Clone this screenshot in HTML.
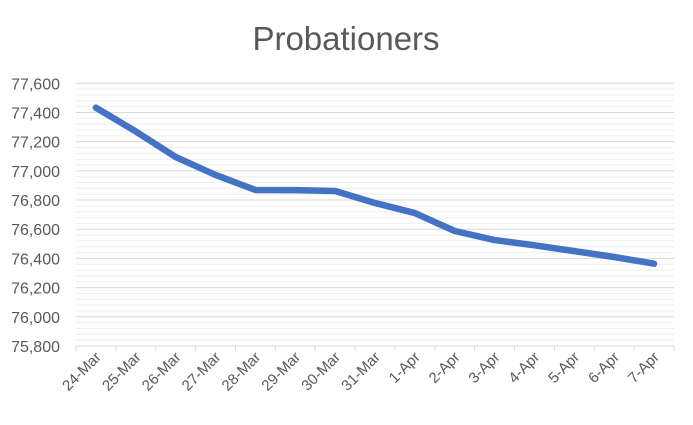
<!DOCTYPE html>
<html><head><meta charset="utf-8"><style>
html,body{margin:0;padding:0;background:#fff;}
svg text{font-family:"Liberation Sans",sans-serif;fill:#595959;}
</style></head><body>
<svg id="chart" width="693" height="420" xmlns="http://www.w3.org/2000/svg">
<text x="346" y="50" text-anchor="middle" font-size="33">Probationers</text>
<g id="grid"></g><g id="yt"></g><g id="xt"></g>
<polyline id="line" fill="none" stroke="#4472C4" stroke-width="6.5" stroke-linejoin="round" stroke-linecap="round"/>
</svg>
<script>
const categories=["24-Mar","25-Mar","26-Mar","27-Mar","28-Mar","29-Mar","30-Mar","31-Mar","1-Apr","2-Apr","3-Apr","4-Apr","5-Apr","6-Apr","7-Apr"];
const values=[77433,77270,77095,76972,76869,76868,76862,76780,76711,76588,76526,76490,76450,76410,76364];
const yTicks=[75800,76000,76200,76400,76600,76800,77000,77200,77400,77600];
const NS="http://www.w3.org/2000/svg";
const x0=76,x1=674,yTop=83.3,yBot=346,vMin=75800,vMax=77600;
const n=categories.length,step=(x1-x0)/n;
const X=i=>x0+step*(i+0.5);
const Y=v=>yBot-(v-vMin)/(vMax-vMin)*(yBot-yTop);
function mk(t,a,p){const e=document.createElementNS(NS,t);for(const k in a)e.setAttribute(k,a[k]);p.appendChild(e);return e;}
const grid=document.getElementById('grid'),yt=document.getElementById('yt'),xt=document.getElementById('xt');
for(let v=vMin;v<=vMax;v+=40){
 const major=(v-vMin)%200===0;
 const l=mk('line',{x1:x0,x2:x1,y1:Y(v),y2:Y(v),stroke:major?'#d9d9d9':'#eeeeee','stroke-width':1},grid);
 
 
}
yTicks.forEach(v=>{
 const t=mk('text',{x:60,y:Y(v)+6,'text-anchor':'end','font-size':16},yt);
 t.textContent=v.toLocaleString('en-US');
 
 
});
const ax=mk('line',{x1:x0,x2:x1,y1:yBot,y2:yBot,stroke:'#d9d9d9','stroke-width':1},xt);


for(let i=0;i<=n;i++){
 const tk=mk('line',{x1:x0+step*i,x2:x0+step*i,y1:yBot,y2:yBot+5,stroke:'#d9d9d9'},xt);
 
 
}
categories.forEach((c,i)=>{
 const x=X(i)+6,y=yBot+12;
 const t=mk('text',{x:x,y:y,'text-anchor':'end','font-size':15,transform:`rotate(-45 ${x} ${y})`},xt);
 t.textContent=c;
 
 
});
document.getElementById('line').setAttribute('points',values.map((v,i)=>X(i)+','+Y(v)).join(' '));
</script>
</body></html>
